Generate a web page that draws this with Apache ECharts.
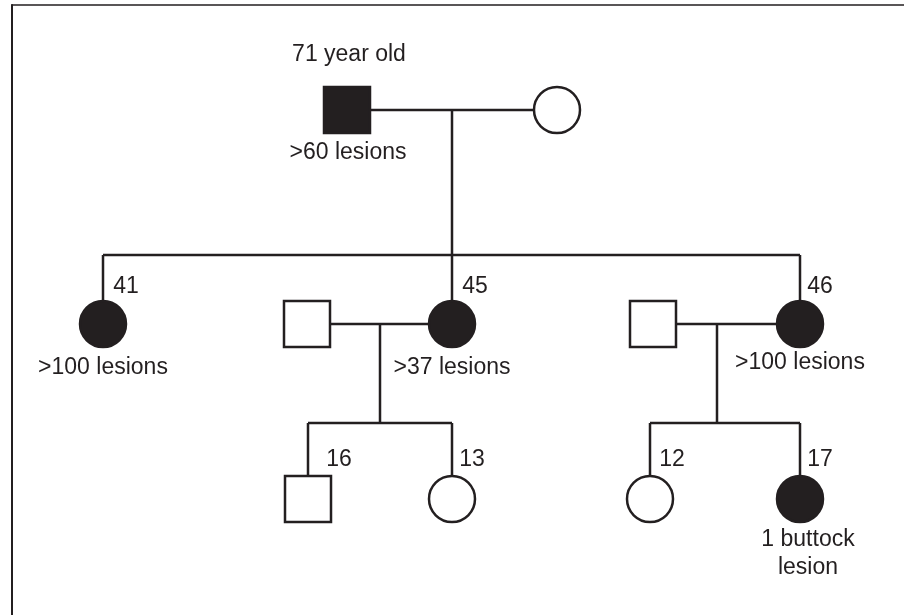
<!DOCTYPE html>
<html>
<head>
<meta charset="utf-8">
<script src="https://cdn.jsdelivr.net/npm/echarts@6/dist/echarts.min.js"></script>
<style>html,body{margin:0;padding:0;background:#fff}#c{width:904px;height:615px}</style>
</head>
<body>
<div id="c"></div>
<script>
// Individuals (layout units on the chart's x / y value axes)
const ids      = ['I-1','I-2','II-1','II-2','II-3','II-4','II-5','III-1','III-2','III-3','III-4'];
const posX     = [347, 557, 103, 307, 452, 653, 800, 308, 452, 650, 800];
const posY     = [110, 110, 324, 324, 324, 324, 324, 499, 499, 499, 499];
const sex      = ['M','F','F','M','F','M','F','M','F','F','F'];
const affected = [1, 0, 1, 0, 1, 0, 1, 0, 0, 0, 1];

// Couples: [partner A index, partner B index], descent line x, sibship line y, children
const couples   = [[0,1],[3,4],[5,6]];
const descentX  = [452, 380, 717];
const sibshipY  = [255, 423, 423];
const children  = [[2,4,6],[7,8],[9,10]];

// Text annotations
const labelText = ['71 year old','>60 lesions','41','>100 lesions','45','>37 lesions','46','>100 lesions','16','13','12','17','1 buttock\nlesion'];
const labelX    = [349, 348, 126, 103, 475, 452, 820, 800, 339, 472, 672, 820, 808];
const labelY    = [55, 153, 287, 368, 287, 368, 287, 363, 460, 460, 460, 460, 554];

const INK = '#231f20';

const lineData = [];
couples.forEach((c, i) => {
  const a = c[0], b = c[1];
  lineData.push({coords: [[posX[a], posY[a]], [posX[b], posY[b]]]});
  lineData.push({coords: [[descentX[i], posY[a]], [descentX[i], sibshipY[i]]]});
  const xs = children[i].map(k => posX[k]);
  lineData.push({coords: [[Math.min(...xs), sibshipY[i]], [Math.max(...xs), sibshipY[i]]]});
  children[i].forEach(k => {
    lineData.push({coords: [[posX[k], sibshipY[i]], [posX[k], posY[k]]]});
  });
});

const symbolData = ids.map((id, i) => ({
  name: id,
  value: [posX[i], posY[i]],
  symbol: sex[i] === 'M' ? 'rect' : 'circle',
  itemStyle: {color: affected[i] ? INK : '#ffffff', borderColor: INK, borderWidth: 2.5, opacity: 1}
}));

const textData = labelText.map((t, i) => ({name: t, value: [labelX[i], labelY[i]]}));

const chart = echarts.init(document.getElementById('c'), null, {renderer: 'canvas'});
chart.setOption({
  animation: false,
  backgroundColor: '#ffffff',
  grid: {left: 12, top: 5, right: 0, bottom: 0, containLabel: false},
  xAxis: {
    type: 'value', min: 12, max: 904, position: 'top',
    axisLine: {show: true, onZero: false, lineStyle: {color: INK, width: 1.5}},
    axisTick: {show: false}, axisLabel: {show: false}, splitLine: {show: false}
  },
  yAxis: {
    type: 'value', min: 5, max: 615, inverse: true,
    axisLine: {show: true, onZero: false, lineStyle: {color: INK, width: 2}},
    axisTick: {show: false}, axisLabel: {show: false}, splitLine: {show: false}
  },
  series: [
    {
      type: 'lines', coordinateSystem: 'cartesian2d', polyline: true, z: 1,
      silent: true,
      lineStyle: {color: INK, width: 2.5, opacity: 1},
      data: lineData
    },
    {
      type: 'scatter', z: 2, symbolSize: 46, silent: true,
      itemStyle: {opacity: 1},
      data: symbolData
    },
    {
      type: 'scatter', z: 3, symbolSize: 0, silent: true,
      itemStyle: {opacity: 1},
      label: {
        show: true, position: 'inside', formatter: p => p.name,
        color: INK, fontFamily: 'Liberation Sans, Arial, sans-serif', fontSize: 23,
        lineHeight: 28, align: 'center', verticalAlign: 'middle'
      },
      data: textData
    }
  ]
});
</script>
</body>
</html>
